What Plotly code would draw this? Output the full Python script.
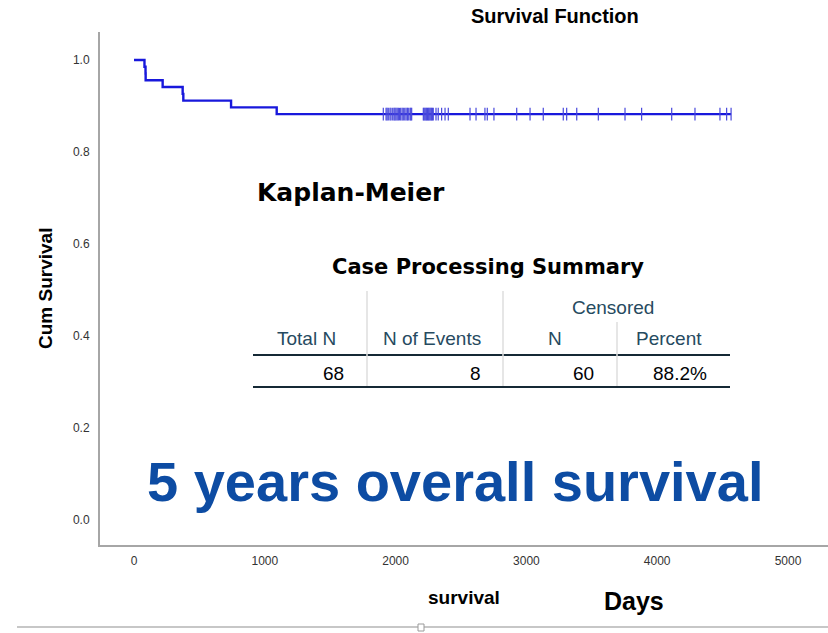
import plotly.graph_objects as go

# ---------------- data ----------------
event_days = [80, 88, 89, 219, 372, 377, 742, 1091]
censored_days = [1906, 1927, 1935, 1944, 1957, 1965, 1978, 1988, 1995, 2003,
                 2012, 2021, 2030, 2039, 2050, 2059, 2070, 2080, 2090, 2097,
                 2110, 2116, 2123, 2212, 2218, 2225, 2232, 2238, 2244, 2250,
                 2256, 2263, 2270, 2276, 2282, 2288, 2309, 2326, 2352, 2378,
                 2403, 2569, 2615, 2683, 2701, 2752, 2926, 3028, 3129, 3282,
                 3308, 3385, 3550, 3754, 3881, 4111, 4289, 4480, 4531, 4565]
x_ticks = [0, 1000, 2000, 3000, 4000, 5000]
y_ticks = [0.0, 0.2, 0.4, 0.6, 0.8, 1.0]
y_tick_labels = ["0.0", "0.2", "0.4", "0.6", "0.8", "1.0"]

chart_title = "Survival Function"
x_title = "survival"
y_title = "Cum Survival"
method_label = "Kaplan-Meier"
table_title = "Case Processing Summary"
table_group_header = "Censored"
table_headers = ["Total N", "N of Events", "N", "Percent"]
banner_text = "5 years overall survival"
unit_text = "Days"

# ---------------- Kaplan-Meier estimate ----------------
records = sorted([(t, 1) for t in event_days] + [(t, 0) for t in censored_days])
n_at_risk = len(records)
surv = 1.0
step_x, step_y = [0], [1.0]
cens_x, cens_y = [], []
i = 0
while i < len(records):
    t = records[i][0]
    d = sum(1 for r in records if r[0] == t and r[1] == 1)
    c = sum(1 for r in records if r[0] == t and r[1] == 0)
    if d:
        surv *= (1 - d / n_at_risk)
        step_x.append(t)
        step_y.append(surv)
    if c:
        cens_x.append(t)
        cens_y.append(surv)
    n_at_risk -= d + c
    i += d + c
step_x.append(records[-1][0])
step_y.append(surv)

total_n = len(event_days) + len(censored_days)
n_events = len(event_days)
n_cens = len(censored_days)
table_values = [str(total_n), str(n_events), str(n_cens),
                "%.1f%%" % (100.0 * n_cens / total_n)]

# ---------------- figure ----------------
W, H = 828, 633
L, R, T, B = 100, 0, 32, 88


def px(x):
    return (x - L) / (W - L - R)


def py(y):
    return (H - B - y) / (H - T - B)


BLUE = "#1818dc"
fig = go.Figure()
fig.add_trace(go.Scatter(x=step_x, y=step_y, mode="lines", line_shape="hv",
                         line=dict(color=BLUE, width=2.4),
                         hoverinfo="skip", showlegend=False))
fig.add_trace(go.Scatter(x=cens_x, y=cens_y, mode="markers",
                         marker=dict(symbol="line-ns-open", size=9,
                                     color="#4848dc",
                                     line=dict(color="#4848dc", width=1.2)),
                         hoverinfo="skip", showlegend=False))

SANS = "Liberation Sans, Arial, sans-serif"
WIDE = "DejaVu Sans, Verdana, sans-serif"
HDR = "#264a60"

ann = []


def add_text(text, x, y, size, color="#000000", family=SANS, xanchor="center",
             yanchor="middle", angle=0):
    ann.append(dict(text=text, x=px(x), y=py(y), xref="paper", yref="paper",
                    showarrow=False, xanchor=xanchor, yanchor=yanchor,
                    font=dict(size=size, color=color, family=family),
                    textangle=angle))


add_text("<b>%s</b>" % chart_title, 555, 16, 20)
add_text("<b>%s</b>" % x_title, 464, 597, 19)
add_text("<b>%s</b>" % y_title, 45, 289, 19, angle=-90)
add_text("<b>%s</b>" % method_label, 255, 192, 25, family=WIDE, xanchor="left")
add_text("<b>%s</b>" % table_title, 488, 267, 21, family=WIDE)
add_text(table_group_header, 613, 307, 19, color=HDR)
hdr_right = [338, 483, None, None]
hdr_center = [None, None, 555, 669]
for lab, xr, xc in zip(table_headers, hdr_right, hdr_center):
    if xr is not None:
        add_text(lab, xr, 338, 19, color=HDR, xanchor="right")
    else:
        add_text(lab, xc, 338, 19, color=HDR)
val_right = [346, 483, 596, 709]
for v, xr in zip(table_values, val_right):
    add_text(v, xr, 373, 19, color="#010205", xanchor="right")
add_text("<b>%s</b>" % banner_text, 455, 481, 56, color="#0d4ca3")
add_text("<b>%s</b>" % unit_text, 634, 601, 25)

shapes = []


def add_line(x0, y0, x1, y1, color, width):
    shapes.append(dict(type="line", xref="paper", yref="paper",
                       x0=px(x0), y0=py(y0), x1=px(x1), y1=py(y1),
                       line=dict(color=color, width=width)))


add_line(253, 355, 730, 355, "#152935", 2)
add_line(253, 387, 730, 387, "#152935", 2)
add_line(367, 291, 367, 386, "#dedede", 1.5)
add_line(503, 291, 503, 386, "#dedede", 1.5)
add_line(617, 322, 617, 386, "#dedede", 1.5)
# slide frame line at the bottom
add_line(17, 627, 828, 627, "#b4b4b4", 1.5)
shapes.append(dict(type="rect", xref="paper", yref="paper",
                   x0=px(418), x1=px(424), y0=py(624), y1=py(631),
                   fillcolor="#ffffff", line=dict(color="#9a9a9a", width=1)))

fig.update_layout(
    width=W, height=H,
    margin=dict(l=L, r=R, t=T, b=B),
    paper_bgcolor="#ffffff", plot_bgcolor="#ffffff",
    annotations=ann, shapes=shapes,
    xaxis=dict(range=[-260, 5306], tickvals=x_ticks,
               ticktext=[str(v) for v in x_ticks],
               showgrid=False, zeroline=False, showline=True,
               linecolor="#a6a6a6", linewidth=2, ticks="",
               ticklabelstandoff=4,
               tickfont=dict(family=SANS, size=12, color="#333333")),
    yaxis=dict(range=[-0.0543, 1.0609], tickvals=y_ticks,
               ticktext=y_tick_labels,
               showgrid=False, zeroline=False, showline=True,
               linecolor="#a6a6a6", linewidth=2, ticks="",
               ticklabelstandoff=6,
               tickfont=dict(family=SANS, size=12, color="#333333")),
)

fig.write_html("out.html",
               config={"displayModeBar": False},
               post_script="document.body.style.margin='0px';")
